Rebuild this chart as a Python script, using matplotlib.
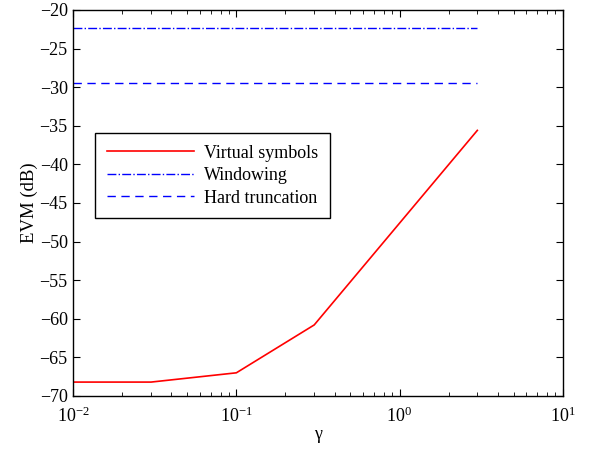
import numpy as np
import matplotlib
matplotlib.use("Agg")
import matplotlib.pyplot as plt

plt.rcParams['font.family'] = ['Liberation Serif', 'DejaVu Serif']
plt.rcParams['mathtext.fontset'] = 'custom'
plt.rcParams['mathtext.rm'] = 'Liberation Serif'
plt.rcParams['mathtext.it'] = 'Liberation Serif:italic'
plt.rcParams['axes.unicode_minus'] = True

# data
gamma = [0.01, 0.03, 0.1, 0.3, 3.0]
evm_virtual = [-68.2, -68.2, -67.0, -60.8, -35.6]
gamma_ref = [0.01, 3.0]
evm_window = [-22.4, -22.4]
evm_hard = [-29.5, -29.5]

fig = plt.figure(figsize=(6.05, 4.51), dpi=100)
ax = fig.add_axes([0.121, 0.122, 0.809, 0.856])

ax.plot(gamma, evm_virtual, 'r-', lw=1.2, label='Virtual symbols')
ax.plot(gamma_ref, evm_window, '-.', color='blue', lw=1.0, label='Windowing')
ax.plot(gamma_ref, evm_hard, '--', color='blue', lw=1.0, dashes=(6, 4), label='Hard truncation')

ax.set_xscale('log')
ax.set_xlim(1e-2, 1e1)
ax.set_ylim(-70, -20)
ax.set_yticks(np.arange(-70, -19, 5))
ax.set_xlabel('γ', fontsize=13, labelpad=0)
ax.set_ylabel('EVM (dB)', fontsize=13.5, labelpad=1)

ax.tick_params(which='both', direction='in', top=True, right=True, labelsize=13)
ax.tick_params(axis='y', pad=4)
ax.tick_params(axis='x', pad=8)
ax.tick_params(which='major', length=5)
ax.tick_params(which='minor', length=3)
for s in ax.spines.values():
    s.set_linewidth(1.0)

leg = ax.legend(loc='upper left', bbox_to_anchor=(0.045, 0.681), borderaxespad=0,
                fontsize=13, fancybox=False, framealpha=1, edgecolor='black',
                handlelength=4.8, handletextpad=0.6, borderpad=0.65, labelspacing=0.3)
leg.get_frame().set_linewidth(1.0)

fig.savefig('out.png', dpi=100)
